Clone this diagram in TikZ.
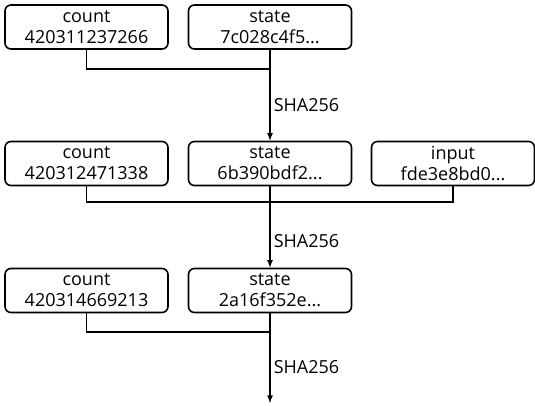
\documentclass[tikz,border=0pt]{standalone}
\usepackage{fontspec}
\setmainfont{Open Sans}
\usetikzlibrary{arrows}

\begin{document}
\begin{tikzpicture}[x=1pt,y=-1pt,
  blk/.style={draw,line width=1.6pt,rounded corners=6pt,minimum width=163pt,minimum height=44pt,align=center,inner sep=0pt,font=\fontsize{18}{21}\selectfont},
  link/.style={line width=1.6pt},
  hashlbl/.style={right,inner sep=3pt,font=\fontsize{18}{21}\selectfont}]
\useasboundingbox (0,0) rectangle (535,406);
% first round
\node[blk] (c1) at (86.5,27) {count\\420311237266};
\node[blk] (s1) at (270,27) {state\\7c028c4f5...};
\coordinate (j1) at (270,69);
\draw[link] (c1.south) |- (j1);
% second round
\node[blk] (c2) at (86.5,163.5) {count\\420312471338};
\node[blk] (s2) at (270,163.5) {state\\6b390bdf2...};
\node[blk] (i2) at (453,163.5) {input\\fde3e8bd0...};
\coordinate (j2) at (270,202);
\draw[link] (c2.south) |- (j2);
\draw[link] (i2.south) |- (j2);
% third round
\node[blk] (c3) at (86.5,290.5) {count\\420314669213};
\node[blk] (s3) at (270,290.5) {state\\2a16f352e...};
\coordinate (j3) at (270,332);
\coordinate (out) at (270,403);
\draw[link] (c3.south) |- (j3);
% hashing steps
\draw[link,-latex] (s1.south) -- (j1) -- (s2.north) node[hashlbl,pos=0.5] {SHA256};
\draw[link,-latex] (s2.south) -- (j2) -- (s3.north) node[hashlbl,pos=0.6] {SHA256};
\draw[link,-latex] (s3.south) -- (j3) -- (out) node[hashlbl,pos=0.5] {SHA256};
\end{tikzpicture}
\end{document}
